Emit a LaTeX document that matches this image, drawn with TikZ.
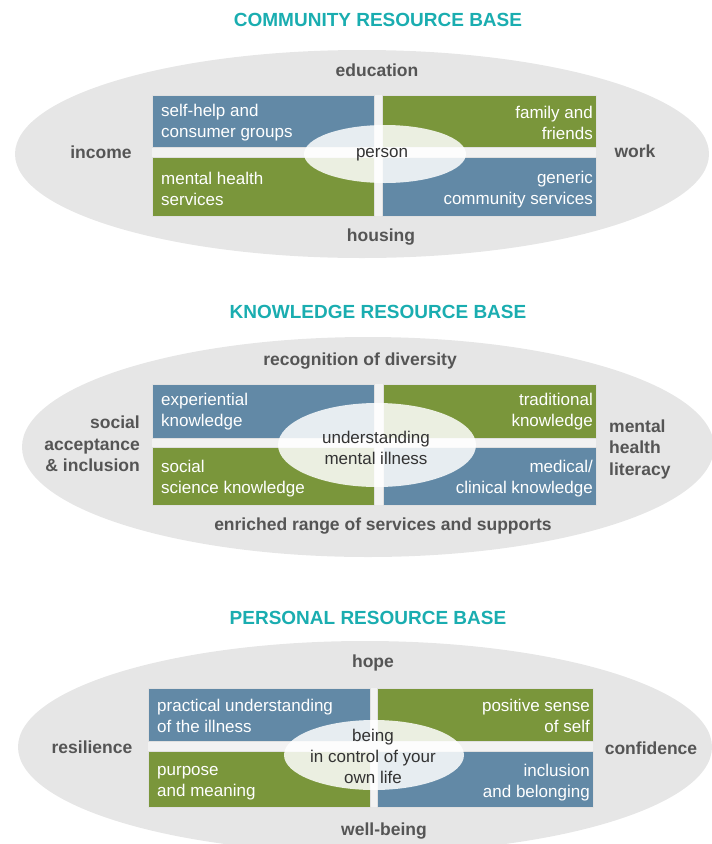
\documentclass[tikz,border=0pt]{standalone}
\usepackage{fontspec}
\setmainfont{Liberation Sans}
\usetikzlibrary{positioning}

\definecolor{basecyan}{HTML}{1AADB0}
\definecolor{steelblue}{HTML}{6289A6}
\definecolor{olivegreen}{HTML}{7A963B}
\definecolor{shellgrey}{HTML}{E6E6E6}
\definecolor{gapgrey}{HTML}{F2F2F2}
\definecolor{rimgrey}{HTML}{555555}

\tikzset{
  basetitle/.style={text=basecyan, font=\fontsize{19}{22}\selectfont\bfseries, inner sep=0pt},
  shell/.style={fill=shellgrey},
  gapfill/.style={fill=gapgrey},
  bluebox/.style={fill=steelblue, draw=black!12, line width=0.4pt},
  greenbox/.style={fill=olivegreen, draw=black!12, line width=0.4pt},
  hub/.style={fill=white, fill opacity=0.85},
  boxtext/.style={text=white, font=\fontsize{17}{21}\selectfont, inner sep=0pt},
  hubtext/.style={text=black!80, font=\fontsize{17}{21}\selectfont, align=center, inner sep=0pt},
  rimtext/.style={text=rimgrey, font=\fontsize{17.5}{21.5}\selectfont\bfseries, inner sep=0pt},
}

\begin{document}
\begin{tikzpicture}[x=1pt, y=-1pt]
        \useasboundingbox (0,0) rectangle (712,844);
        \clip (0,0) rectangle (712,844);
        % community
        \node[basetitle] (ctitle) at (378,20) {COMMUNITY RESOURCE BASE};
        \fill[shell] (362,154) ellipse [x radius=347, y radius=104];
        \fill[gapfill] (152,95) rectangle (596,216);
        \filldraw[bluebox] (152,95) rectangle (374,147);
        \filldraw[greenbox] (382,95) rectangle (596,147);
        \filldraw[greenbox] (152,157) rectangle (374,216);
        \filldraw[bluebox] (382,157) rectangle (596,216);
        \fill[hub] (385,154) ellipse [x radius=81, y radius=29];
        \node[boxtext, anchor=west, align=left] (ctl) at (161,123) {self-help and\\consumer groups};
        \node[boxtext, anchor=east, align=right] (ctr) at (593,123) {family and\\friends};
        \node[boxtext, anchor=west, align=left] (cbl) at (161,189) {mental health\\services};
        \node[boxtext, anchor=east, align=right] (cbr) at (593,190) {generic\\community services};
        \node[hubtext] (chub) at (382,155) {person};
        \node[rimtext] (cn) at (377,70) {education};
        \node[rimtext] (cs) at (381,237) {housing};
        \node[rimtext] (cw) at (101,152) {income};
        \node[rimtext] (ce) at (635,151) {work};

        % knowledge
        \node[basetitle] (ktitle) at (378,312) {KNOWLEDGE RESOURCE BASE};
        \fill[shell] (368,447) ellipse [x radius=346, y radius=110];
        \fill[gapfill] (152,384) rectangle (596,505);
        \filldraw[bluebox] (152,384) rectangle (374,438);
        \filldraw[greenbox] (383,384) rectangle (596,438);
        \filldraw[greenbox] (152,447) rectangle (374,505);
        \filldraw[bluebox] (383,447) rectangle (596,505);
        \fill[hub] (377,445) ellipse [x radius=99, y radius=42];
        \node[boxtext, anchor=west, align=left] (ktl) at (161,412) {experiential\\knowledge};
        \node[boxtext, anchor=east, align=right] (ktr) at (593,412) {traditional\\knowledge};
        \node[boxtext, anchor=west, align=left] (kbl) at (161,479) {social\\science knowledge};
        \node[boxtext, anchor=east, align=right] (kbr) at (593,479) {medical/\\clinical knowledge};
        \node[hubtext] (khub) at (376,448) {understanding\\mental illness};
        \node[rimtext] (kn) at (360,361) {recognition of diversity};
        \node[rimtext] (ks) at (383,526) {enriched range of services and supports};
        \node[rimtext, anchor=east, align=right] (kw) at (140,444) {social\\acceptance\\\& inclusion};
        \node[rimtext, anchor=west, align=left] (ke) at (609,449) {mental\\health\\literacy};

        % personal
        \node[basetitle] (ptitle) at (368,618) {PERSONAL RESOURCE BASE};
        \fill[shell] (365,747) ellipse [x radius=347, y radius=106];
        \fill[gapfill] (148,688) rectangle (593,807);
        \filldraw[bluebox] (148,688) rectangle (370,741);
        \filldraw[greenbox] (377,688) rectangle (593,741);
        \filldraw[greenbox] (148,751) rectangle (370,807);
        \filldraw[bluebox] (377,751) rectangle (593,807);
        \fill[hub] (374,755) ellipse [x radius=90, y radius=35];
        \node[boxtext, anchor=west, align=left] (ptl) at (157,716) {practical understanding\\of the illness};
        \node[boxtext, anchor=east, align=right] (ptr) at (590,716) {positive sense\\of self};
        \node[boxtext, anchor=west, align=left] (pbl) at (157,783) {purpose\\and meaning};
        \node[boxtext, anchor=east, align=right] (pbr) at (590,783) {inclusion\\and belonging};
        \node[hubtext] (phub) at (373,756) {being\\in control of your\\own life};
        \node[rimtext] (pn) at (373,663) {hope};
        \node[rimtext] (ps) at (384,831) {well-being};
        \node[rimtext] (pw) at (92,747) {resilience};
        \node[rimtext] (pe) at (651,748) {confidence};
\end{tikzpicture}
\end{document}
